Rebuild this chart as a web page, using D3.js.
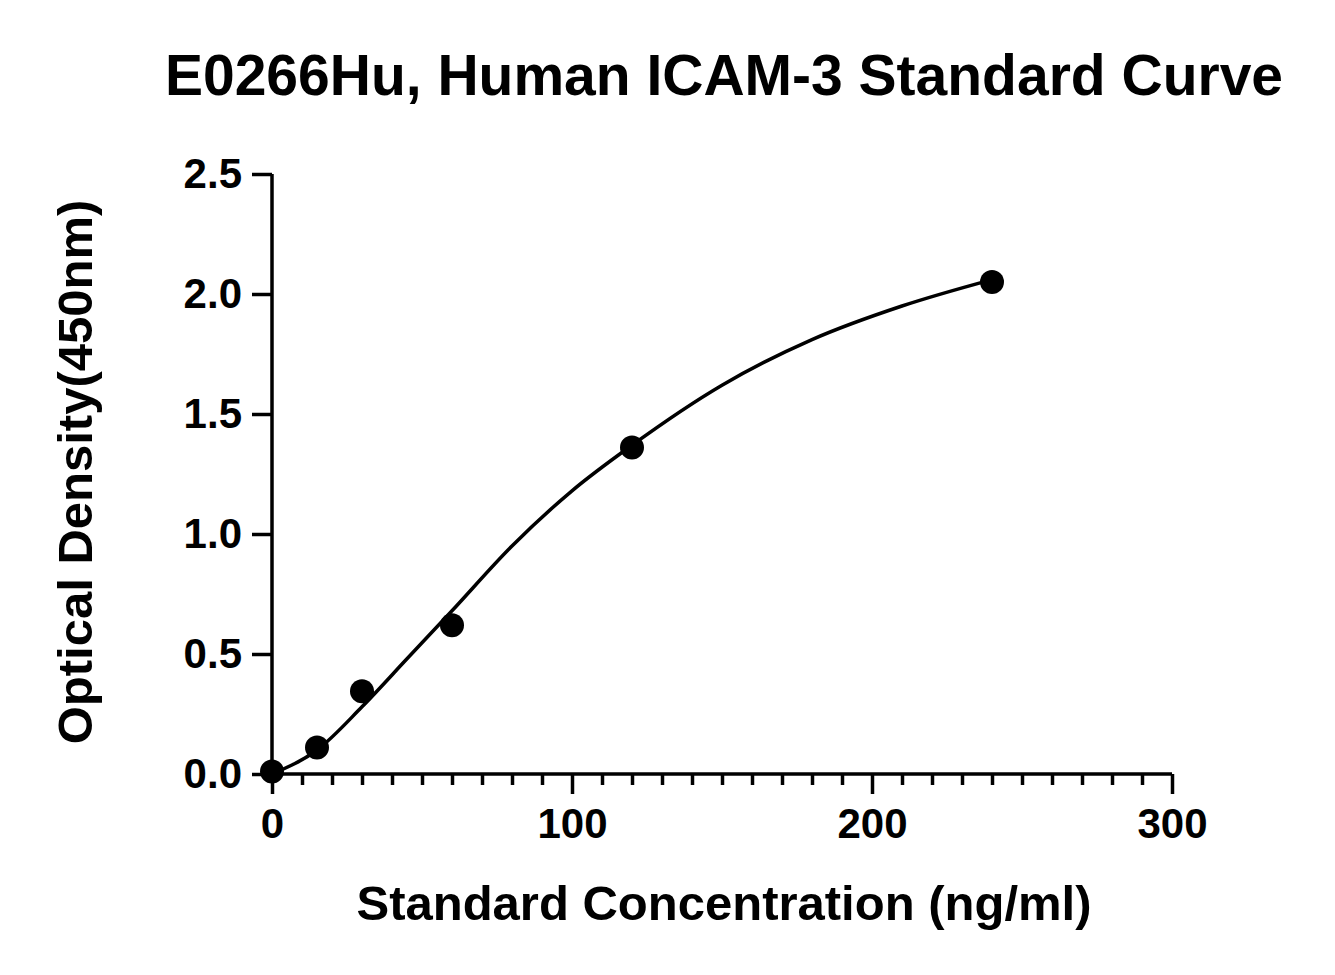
<!DOCTYPE html>
<html><head><meta charset="utf-8">
<script src="https://cdn.jsdelivr.net/npm/d3@7"></script>
<style>body{margin:0;background:#fff}text{font-family:"Liberation Sans",Arial,sans-serif;font-weight:bold}</style>
</head><body><svg id="c" width="1335" height="975"></svg>
<script>
const conc=[0,15,30,60,120,240];
const od=[0.01,0.11,0.345,0.62,1.36,2.05];
const curveX=[0,15,30,45,60,80,100,120,150,180,210,240];
const curveY=[0,0.10,0.28,0.48,0.68,0.95,1.18,1.37,1.62,1.81,1.95,2.06];
const xTicks=[0,100,200,300];
const yTicks=[0,0.5,1.0,1.5,2.0,2.5];
const svg=d3.select("#c");
const x=d3.scaleLinear().domain([0,300]).range([272,1172]);
const y=d3.scaleLinear().domain([0,2.5]).range([774,174]);
const xa=svg.append("g").attr("transform","translate(0,774)")
 .call(d3.axisBottom(x).tickValues(xTicks).tickSize(20).tickPadding(14).tickFormat(d3.format("d")));
svg.append("g").attr("transform","translate(0,774)")
 .call(d3.axisBottom(x).tickValues(d3.range(0,301,10).filter(v=>v%100)).tickSize(11).tickFormat(""))
 .select(".domain").remove();
const ya=svg.append("g").attr("transform","translate(272,0)")
 .call(d3.axisLeft(y).tickValues(yTicks).tickSize(20).tickPadding(10).tickFormat(d3.format(".1f")));
svg.selectAll(".domain,.tick line").style("stroke","#000").style("stroke-width","3.5px");
xa.select(".domain").attr("d","M270,0H1172");
ya.select(".domain").attr("d","M0,776V174");
svg.selectAll(".tick text").style("font-size","42px").style("fill","#000").style("font-weight","bold");
svg.append("path").datum(curveX.map((v,i)=>[v,curveY[i]]))
 .attr("d",d3.line().x(d=>x(d[0])).y(d=>y(d[1])).curve(d3.curveMonotoneX))
 .attr("fill","none").style("stroke","#000").style("stroke-width","3.5px");
svg.selectAll("circle.p").data(conc).join("circle").attr("cx",d=>x(d)).attr("cy",(d,i)=>y(od[i])).attr("r",12).attr("fill","#000");
svg.append("text").attr("x",724).attr("y",95).attr("text-anchor","middle").style("font-size","57px").text("E0266Hu, Human ICAM-3 Standard Curve");
svg.append("text").attr("x",724).attr("y",920).attr("text-anchor","middle").style("font-size","49px").text("Standard Concentration (ng/ml)");
svg.append("text").attr("transform","translate(92,472) rotate(-90)").attr("text-anchor","middle").style("font-size","49px").text("Optical Density(450nm)");
</script></body></html>
